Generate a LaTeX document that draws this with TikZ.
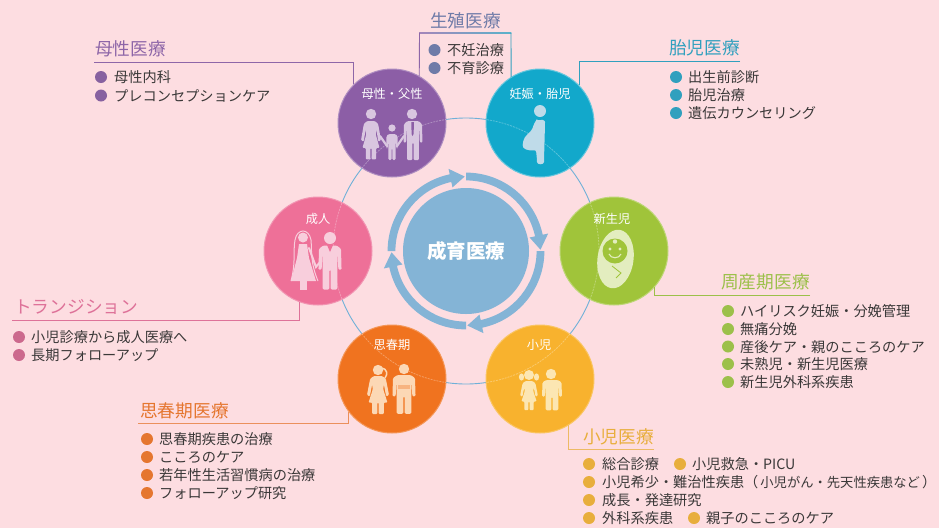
\documentclass[tikz,border=0pt]{standalone}
\usepackage{fontspec}
\setmainfont{Noto Sans CJK JP}
\usetikzlibrary{calc}
\definecolor{bg}{HTML}{FDDDE1}
\definecolor{ctxt}{HTML}{3A3838}
\definecolor{cblue}{HTML}{84B4D6}
\definecolor{cring}{HTML}{6FB0D8}
\definecolor{cpur}{HTML}{8C5EA6}
\definecolor{cteal}{HTML}{12A8CB}
\definecolor{cgrn}{HTML}{A0C43A}
\definecolor{cyel}{HTML}{F8B22E}
\definecolor{cora}{HTML}{F0731F}
\definecolor{cpnk}{HTML}{EE7098}
\definecolor{tpur}{HTML}{8E66A8}
\definecolor{tsla}{HTML}{6F7BA8}
\definecolor{ttea}{HTML}{31A0BE}
\definecolor{tgrn}{HTML}{9CC04A}
\definecolor{tyel}{HTML}{E8AE3C}
\definecolor{tora}{HTML}{E5762F}
\definecolor{tpnk}{HTML}{DE7299}
\definecolor{ipur}{HTML}{D9C6E0}
\definecolor{itea}{HTML}{BFDBE9}
\definecolor{ipnk}{HTML}{F8CEDC}
\definecolor{igrn}{HTML}{E3EDBF}
\definecolor{iora}{HTML}{FCD8B5}
\definecolor{iyel}{HTML}{FCE6B2}
\tikzset{
  x=1pt,y=-1pt,
  stage/.style={circle,inner sep=0pt,minimum size=108pt,line width=1pt},
  stagelabel/.style={text=white,inner sep=0pt,yshift=-.8pt,font=\fontsize{12.2}{14}\selectfont},
  ttl/.style={anchor=west,inner sep=0pt,yshift=-1pt,font=\fontsize{17.7}{20}\selectfont},
  itm/.style={anchor=west,inner sep=0pt,yshift=-1.8pt,text=ctxt,text height=.88em,text depth=.12em,font=\fontsize{14.2}{16}\selectfont},
  bul/.style={circle,inner sep=0pt,minimum size=12pt},
  lead/.style={line width=.9pt},
  ringarrow/.style={fill=cblue},
}
% figures: centred on x, y = top of shoulders, 20 wide and 40 tall in own units
\newcommand{\figM}[5]{% cx, top, w-scale, h-scale, colour
  \begin{scope}[shift={(#1,#2)},xscale=#3,yscale=#4]
    \fill[#5,rounded corners=1.2pt] (-6,0) -- (6,0) -- (10,3) -- (10.5,22) -- (7.6,22) -- (7,9) -- (6.6,9) -- (6.6,40) -- (.6,40) -- (.6,22) -- (-.6,22) -- (-.6,40) -- (-6.6,40) -- (-6.6,9) -- (-7,9) -- (-7.6,22) -- (-10.5,22) -- (-10,3) -- cycle;
  \end{scope}}
\newcommand{\figF}[5]{%
  \begin{scope}[shift={(#1,#2)},xscale=#3,yscale=#4]
    \fill[#5,rounded corners=1pt] (-4,0) -- (4,0) -- (7.5,3) -- (10.5,20) -- (7.8,21.5) -- (5.6,9) -- (5,14) -- (9,28) -- (5.5,28) -- (5.5,40) -- (.6,40) -- (.6,28) -- (-.6,28) -- (-.6,40) -- (-5.5,40) -- (-5.5,28) -- (-9,28) -- (-5,14) -- (-5.6,9) -- (-7.8,21.5) -- (-10.5,20) -- (-7.5,3) -- cycle;
  \end{scope}}
\newcommand{\itemrow}[6]{% name, bullet x, text x, y, colour, text
  \node[bul,fill=#5] (#1b) at (#2,#4) {};
  \node[itm] (#1t) at (#3,#4) {#6};}
\begin{document}
\begin{tikzpicture}
\useasboundingbox (0,0) rectangle (939,528);
\fill[bg] (0,0) rectangle (939,528);
\coordinate (ctr) at (466,251);
% thin ring
\draw[cring,line width=.9pt] (ctr) circle[radius=133pt];
% stage circles
\node[stage,fill=cpur,draw=cpur!70!white] (mother) at (392,123) {};
\node[stage,fill=cteal,draw=cteal!65!white] (preg) at (540,123) {};
\node[stage,fill=cgrn,draw=cgrn!70!white] (newborn) at (614,251) {};
\node[stage,fill=cyel,draw=cyel!75!white] (child) at (540,379) {};
\node[stage,fill=cora,draw=cora!75!white] (teen) at (392,379) {};
\node[stage,fill=cpnk,draw=cpnk!75!white] (adult) at (318,251) {};
% ring seen through the circles
\foreach \c in {mother,preg,newborn,child,teen,adult}{
  \begin{scope}
    \clip (\c) circle[radius=54pt];
    \draw[white,opacity=.3,line width=.8pt,dash pattern=on 2pt off 1pt] (ctr) circle[radius=133pt];
  \end{scope}}
% centre
\node[circle,fill=cblue,inner sep=0pt,minimum size=126pt,text=white,font=\fontsize{19.5}{22}\selectfont\bfseries] (care) at (ctr) {\raisebox{-2pt}{成育医療}};
\foreach \k in {0,1,2,3}{
  \begin{scope}[shift={(ctr)},rotate=-90*\k]
    \fill[ringarrow] (180:78.4pt) arc[start angle=180,end angle=102,radius=78.4pt] -- (102:84pt) -- (91:74.5pt) -- (102:65pt) -- (102:70.6pt) arc[start angle=102,end angle=180,radius=70.6pt] -- cycle;
  \end{scope}}
% stage labels
\node[stagelabel] (lmother) at (392,93) {母性・父性};
\node[stagelabel] (lpreg) at (540,93) {妊娠・胎児};
\node[stagelabel] (ladult) at (318,218) {成人};
\node[stagelabel] (lnew) at (612,218) {新生児};
\node[stagelabel] (lteen) at (392,344) {思春期};
\node[stagelabel] (lchild) at (539,344) {小児};
% family icon
\fill[ipur] (371,114) circle[radius=5.2pt] (412,114) circle[radius=5.2pt] (392,128) circle[radius=3.6pt];
\figF{371}{121}{.95}{.96}{ipur}
\figM{413}{121}{.9}{.98}{ipur}
\figM{392}{134}{.55}{.65}{ipur}
\draw[ipur,line width=2.2pt,line cap=round] (380,136) -- (387,146) (404,136) -- (397,146);
\fill[cpur] (411.3,122) -- (414,122) -- (413.6,134) -- (412.6,136) -- (411.6,134) -- cycle;
% pregnant icon
\fill[itea] (540,111) circle[radius=6pt];
\fill[itea,rounded corners=2pt] (537,121) .. controls (541,119) and (545,120) .. (545,124) -- (544,160) .. controls (544,165) and (537,165) .. (537,160) -- (536,150) .. controls (528,151) and (522,149) .. (523,143) .. controls (524,136) and (531,132) .. (533,127) .. controls (534,124) and (535,122) .. (537,121) -- cycle;
% bride and groom icon
\fill[ipnk] (330,238) circle[radius=6pt];
\figM{330}{245.5}{1.1}{1.1}{ipnk}
\fill[cpnk] (327,245) -- (333,245) -- (330,252) -- cycle;
\draw[ipnk,line width=1pt] (291,281) .. controls (296,262) and (293,250) .. (295,240) .. controls (297,228) and (309,228) .. (311,240) .. controls (312,250) and (310,262) .. (318,281);
\fill[ipnk] (303,237.5) circle[radius=5pt];
\fill[ipnk] (299,244) -- (307,244) -- (309,258) -- (316,281) -- (291,281) -- (297,258) -- cycle;
\fill[ipnk] (300,281) rectangle (307,290);
\draw[ipnk,line width=2pt,line cap=round] (309,248) -- (316,267) -- (320,262);
% newborn icon
\fill[igrn,rotate around={-8:(615.5,259)}] (615.5,259) ellipse[x radius=18pt,y radius=29.5pt];
\fill[cgrn] (615,251) circle[radius=12.5pt];
\fill[igrn] (610,249) circle[radius=1.7pt] (620,249) circle[radius=1.7pt] (615,241.5) circle[radius=2.2pt];
\draw[igrn,line width=1.1pt] (609,254) .. controls (611,259) and (619,259) .. (621,254);
\draw[cgrn,line width=.8pt] (612,266) -- (621,273) -- (616,278);
% teen icon
\fill[iora] (378,370) circle[radius=5.2pt] (404,369) circle[radius=5.2pt];
\draw[iora,line width=1.5pt,line cap=round] (382,368) .. controls (387,369) and (388,374) .. (385,378);
\figF{378}{376}{1.05}{.95}{iora}
\figM{404}{375}{1.1}{.97}{iora}
\fill[cora,opacity=.35] (398,385) rectangle (410,389);
% child icon
\fill[iyel] (529,375) circle[radius=5pt] (551,374) circle[radius=5.2pt];
\fill[iyel] (521.5,377) ellipse[x radius=2.6pt,y radius=3.6pt] (536.5,377) ellipse[x radius=2.6pt,y radius=3.6pt];
\figF{529}{381}{.85}{.73}{iyel}
\figM{552}{380}{.95}{.76}{iyel}
% ---- group: 母性医療
\node[ttl,text=tpur] (tMother) at (95,48) {母性医療};
\coordinate (rMother) at (94,62);
\draw[lead,tpur] (rMother) -| (mother.135);
\itemrow{a1}{101}{114}{77}{tpur!95!black}{母性内科}
\itemrow{a2}{101}{114}{95.5}{tpur!95!black}{プレコンセプションケア}
% ---- group: 生殖医療
\node[ttl,text=tsla] (tRepro) at (430,20) {生殖医療};
\coordinate (rReproL) at (419.5,33);
\coordinate (rReproR) at (511,33);
\shade[left color=tpur!80!white,right color=ttea!80!white] ($(rReproL)+(-.45,-.45)$) rectangle ($(rReproR)+(.45,.45)$);
\draw[lead,tpur] (rReproL) -- (mother.60);
\draw[lead,ttea] (rReproR) -- (preg.122);
\itemrow{b1}{434.5}{447}{50}{tsla}{不妊治療}
\itemrow{b2}{434.5}{447}{68}{tsla}{不育診療}
% ---- group: 胎児医療
\node[ttl,text=ttea] (tFetal) at (669,47) {胎児医療};
\coordinate (rFetal) at (740,61.5);
\draw[lead,ttea] (rFetal) -| (preg.44);
\itemrow{c1}{676}{688}{77}{ttea}{出生前診断}
\itemrow{c2}{676}{688}{95}{ttea}{胎児治療}
\itemrow{c3}{676}{688}{113}{ttea}{遺伝カウンセリング}
% ---- group: 周産期医療
\node[ttl,text=tgrn] (tPeri) at (721,281) {周産期医療};
\coordinate (rPeri) at (810,295);
\draw[lead,tgrn] (rPeri) -| (newborn.-42);
\itemrow{d1}{728}{740}{311}{tgrn}{ハイリスク妊娠・分娩管理}
\itemrow{d2}{728}{740}{329}{tgrn}{無痛分娩}
\itemrow{d3}{728}{740}{346.5}{tgrn}{産後ケア・親のこころのケア}
\itemrow{d4}{728}{740}{364}{tgrn}{未熟児・新生児医療}
\itemrow{d5}{728}{740}{382}{tgrn}{新生児外科系疾患}
% ---- group: 小児医療
\node[ttl,text=tyel] (tChild) at (583,436) {小児医療};
\coordinate (rChild) at (654,449);
\draw[lead,tyel!75!bg] (rChild) -| (child.-58.5);
\itemrow{e1}{589}{602}{464}{tyel}{総合診療}
\itemrow{e2}{680}{692}{464}{tyel}{小児救急・PICU}
\itemrow{e3}{589}{602}{482}{tyel}{小児希少・難治性疾患（\kern2pt{\fontsize{13.3}{16}\selectfont 小児がん・先天性疾患など}\kern2pt）}
\itemrow{e4}{589}{602}{500}{tyel}{成長・発達研究}
\itemrow{e5}{589}{602}{518}{tyel}{外科系疾患}
\itemrow{e6}{694}{706}{518}{tyel}{親子のこころのケア}
% ---- group: 思春期医療
\node[ttl,text=tora] (tTeen) at (140,410) {思春期医療};
\coordinate (rTeen) at (138,423.5);
\draw[lead,tora!75!bg,line width=1.1pt] (rTeen) -| (teen.217);
\itemrow{f1}{147}{159}{439}{tora}{思春期疾患の治療}
\itemrow{f2}{147}{159}{457}{tora}{こころのケア}
\itemrow{f3}{147}{159}{475}{tora}{若年性生活習慣病の治療}
\itemrow{f4}{147}{159}{493}{tora}{フォローアップ研究}
% ---- group: トランジション
\node[ttl,text=tpnk] (tTrans) at (14,306) {トランジション};
\coordinate (rTrans) at (12,320);
\draw[lead,tpnk] (rTrans) -| (adult.250);
\itemrow{g1}{19}{31}{337}{tpnk!92!black}{小児診療から成人医療へ}
\itemrow{g2}{19}{31}{355}{tpnk!92!black}{長期フォローアップ}
\end{tikzpicture}
\end{document}
